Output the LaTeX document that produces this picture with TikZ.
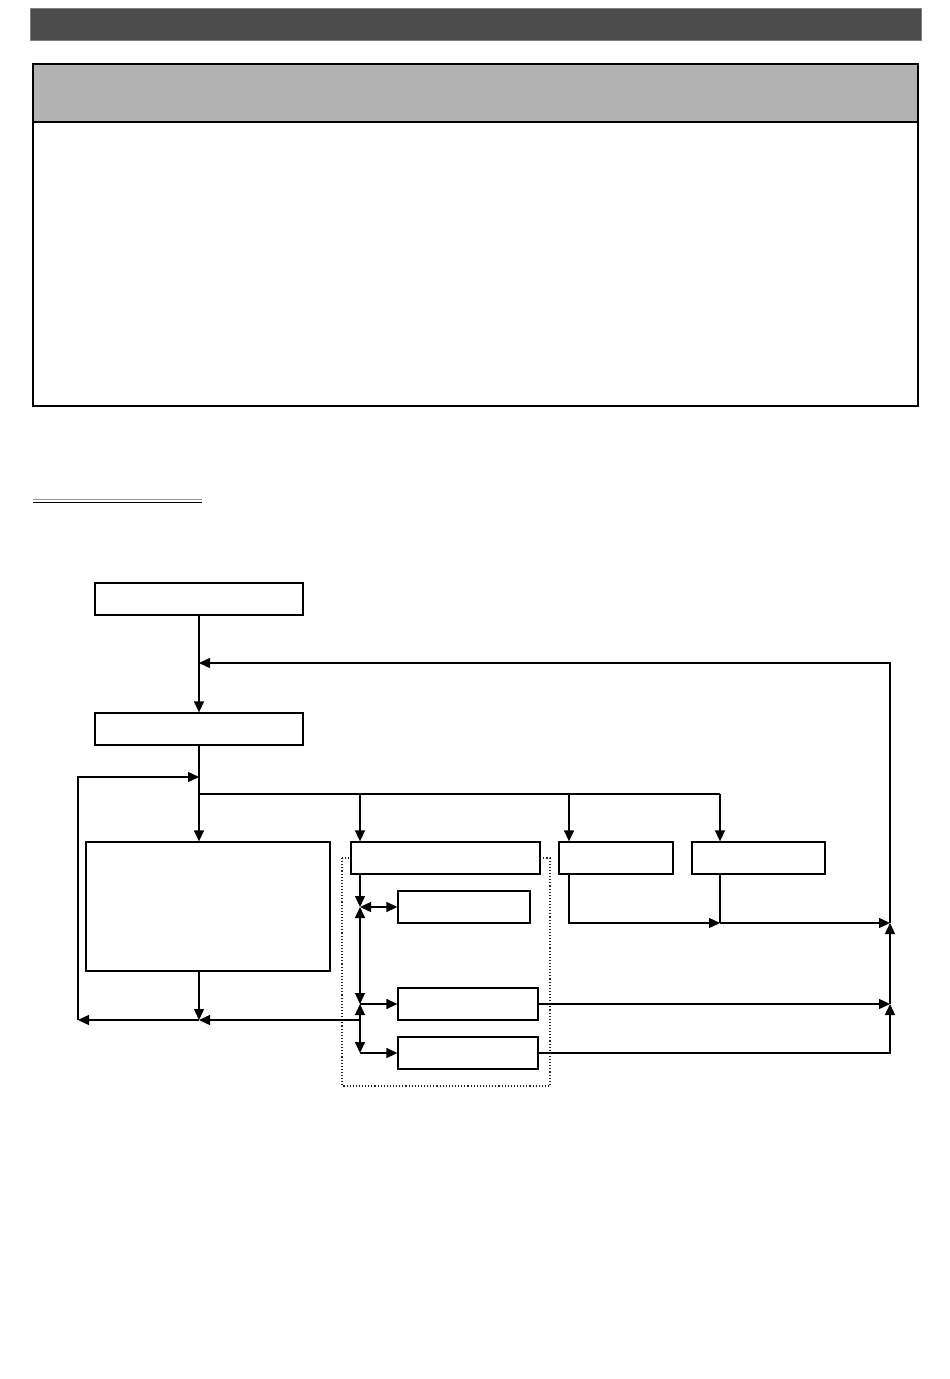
\documentclass[tikz,border=0pt]{standalone}
\usepackage{tikz}
\usetikzlibrary{arrows.meta,positioning}

\begin{document}
\begin{tikzpicture}[
  x=1pt, y=-1pt,
  blk/.style={rectangle, draw=black, fill=white, line width=1.3pt,
              inner sep=0pt, minimum height=32pt},
  arr/.style={-{Triangle[length=11pt,width=10pt]}, line width=1.4pt},
  darr/.style={{Triangle[length=11pt,width=10pt]}-{Triangle[length=11pt,width=10pt]},
               line width=1.4pt},
  ln/.style={line width=1.4pt}]

\useasboundingbox (0,0) rectangle (950,1379);

% page header and empty text frame
\filldraw[fill=black!70, draw=black!50] (30,8) rectangle (921,40);
\draw[fill=black!30, line width=1.3pt] (33,64) rectangle (918,122);
\draw[line width=1.3pt] (33,122) rectangle (918,406);
\draw[black!40, line width=1.2pt] (33,499.5) -- (202,499.5);
\draw[line width=1.3pt] (33,502.5) -- (202,502.5);

% dotted group frame
\draw[black!85, dotted, line width=1.1pt] (342,858) rectangle (550,1086);

\node[blk, minimum width=208pt] (start) at (199,599) {};
\node[blk, minimum width=208pt] (init) at (199,729) {};
\node[blk, minimum width=244pt, minimum height=129pt] (main) at (208,906.5) {};
\node[blk, minimum width=189pt] (sub) at (445.5,858) {};
\node[blk, minimum width=114pt] (chkE) at (616,858) {};
\node[blk, minimum width=133pt] (chkF) at (758.5,858) {};
\node[blk, minimum width=132pt] (g) at (464,907) {};
\node[blk, minimum width=140pt] (h) at (468,1004) {};
\node[blk, minimum width=140pt] (i) at (468,1053) {};

\coordinate (back) at (199,663);
\coordinate (loop) at (199,777);
\coordinate (fork) at (199,794);
\coordinate (dD) at (360,794);
\coordinate (dE) at (569,794);
\coordinate (dF) at (720,794);
\coordinate (merge) at (199,1020);
\coordinate (ret) at (78,1020);
\coordinate (tap) at (360,1020);
\coordinate (bus1) at (360,907);
\coordinate (bus2) at (360,1004);
\coordinate (bus3) at (360,1053);
\coordinate (sumA) at (720,923);
\coordinate (sumB) at (890,923);
\coordinate (sumC) at (890,1004);

% main line
\draw[arr] (start) -- (init);
\draw[arr] (init) -- (init |- main.north);
\draw[ln] (fork) -- (dF);
\draw[arr] (dD) -- (dD |- sub.north);
\draw[arr] (dE) -- (dE |- chkE.north);
\draw[arr] (dF) -- (dF |- chkF.north);

% left loop
\draw[arr] (merge |- main.south) -- (merge);
\draw[arr] (tap) -- (merge);
\draw[arr] (merge) -- (ret);
\draw[arr] (ret) |- (loop);

% sub bus
\draw[arr] (bus1 |- sub.south) -- (bus1);
\draw[darr] (bus1) -- (bus1 -| g.west);
\draw[darr] (bus1) -- (bus2);
\draw[darr] (bus2) -- (bus3);
\draw[arr] (bus2) -- (bus2 -| h.west);
\draw[arr] (bus3) -- (bus3 -| i.west);

% right side returns
\draw[arr] (dE |- chkE.south) |- (sumA);
\draw[ln] (dF |- chkF.south) -- (sumA);
\draw[arr] (sumA) -- (sumB);
\draw[arr] (h.east) -- (sumC);
\draw[arr] (i.east) -| (sumC);
\draw[arr] (sumC) -- (sumB);
\draw[arr] (sumB) |- (back);
\end{tikzpicture}
\end{document}
